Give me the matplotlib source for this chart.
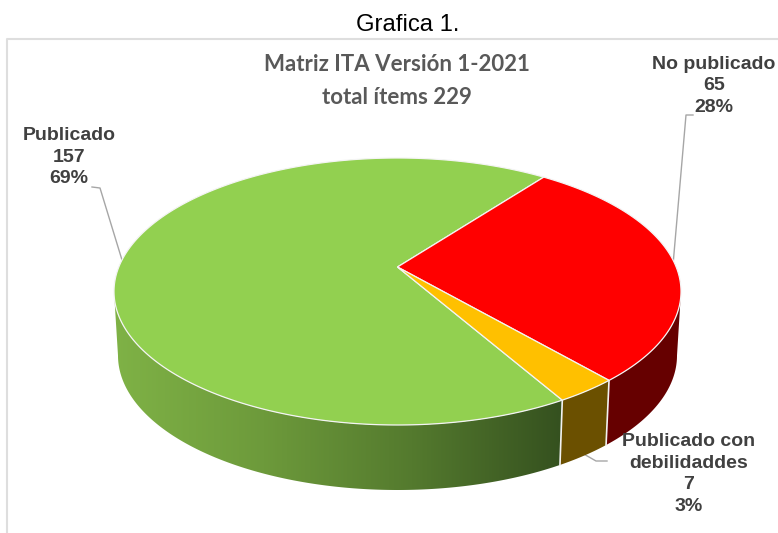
import numpy as np
import matplotlib
matplotlib.use("Agg")
import matplotlib.pyplot as plt
from matplotlib.patches import Polygon
from matplotlib.colors import LinearSegmentedColormap

# data
categorias = ["Publicado", "No publicado", "Publicado con\ndebilidaddes"]
valores = [157, 65, 7]
porcentajes = ["69%", "28%", "3%"]
colores_top = ["#92D050", "#FF0000", "#FFC000"]

# pie geometry, in pixels of the 778x533 picture
cx, cy, rx, ry = 397.5, 291.5, 283.5, 133.5
cx2, cy2, rx2, ry2 = 397.5, 355.5, 279.5, 134.5
persp = 0.1835
inicio = 53.0   # red/green border, angle on the flat circle


def proj(t, x0, y0, a, b):
    # perspective view of a circle, so the apex sits above the ellipse centre
    t = np.radians(t)
    w = 1 + persp * np.sin(t)
    xp = np.cos(t) * np.sqrt(1 - persp ** 2) / w
    yp = (np.sin(t) + persp) / w
    return x0 + a * xp, y0 - b * yp


def top_slice(t1, t2):
    t = np.linspace(t1, t2, 300)
    x, y = proj(t, cx, cy, rx, ry)
    return np.column_stack([np.r_[cx, x], np.r_[cy - ry * persp, y]])


def side_slice(t1, t2):
    t = np.linspace(t1, t2, 200)
    x, y = proj(t, cx, cy, rx, ry)
    x2, y2 = proj(t[::-1], cx2, cy2, rx2, ry2)
    return np.column_stack([np.r_[x, x2], np.r_[y, y2]])


fig = plt.figure(figsize=(7.78, 5.33), dpi=100)
ax = fig.add_axes([0, 0, 1, 1])
ax.set_xlim(0, 778)
ax.set_ylim(533, 0)
ax.axis("off")

# chart frame
ax.plot([778, 7.5, 7.5], [39, 39, 533], color="#DEDEDE", lw=1.5)

# slice angles, clockwise from the red border
total = sum(valores)
ang_rojo = valores[1] / total * 360
ang_amar = valores[2] / total * 360
t_a = inicio
t_b = t_a - ang_rojo
t_c = t_b - ang_amar
t_d = t_a - 360
borde = -np.degrees(np.arcsin(persp))   # where the rim turns away

# side walls
ax.add_patch(Polygon(side_slice(borde, t_b), fc="#660000", ec="none", zorder=2))
ax.add_patch(Polygon(side_slice(t_b, t_c), fc="#6B5000", ec="none", zorder=2))

verde = LinearSegmentedColormap.from_list("verde", ["#7FB246", "#6D9A3B", "#547A2E", "#35511F"])
p_verde = Polygon(side_slice(t_c, -180 - borde), fc="none", ec="none", zorder=2)
ax.add_patch(p_verde)
im = ax.imshow(np.linspace(0, 1, 256).reshape(1, -1), cmap=verde, aspect="auto",
               extent=[114, 562, 500, 280], zorder=2)
im.set_clip_path(p_verde)
ax.set_xlim(0, 778)
ax.set_ylim(533, 0)

# wall separators
for t in [t_b, t_c]:
    x1, y1 = proj(t, cx, cy, rx, ry)
    x2, y2 = proj(t, cx2, cy2, rx2, ry2)
    ax.plot([x1, x2], [y1, y2], color="#F2F2F2", lw=1.2, zorder=3)

# top faces
ax.add_patch(Polygon(top_slice(t_c, t_d), fc=colores_top[0], ec="#F4F4F4", lw=0.9, zorder=4))
ax.add_patch(Polygon(top_slice(t_b, t_a), fc=colores_top[1], ec="#F4F4F4", lw=0.9, zorder=4))
ax.add_patch(Polygon(top_slice(t_c, t_b), fc=colores_top[2], ec="#F4F4F4", lw=0.9, zorder=4))

# leader lines
gris = "#A6A6A6"
ax.plot([92, 100, 122], [187, 188, 260], color=gris, lw=1, zorder=1)
ax.plot([693, 686, 673], [115, 115, 265], color=gris, lw=1, zorder=1)
ax.plot([582, 596, 607], [453, 461, 461], color=gris, lw=1, zorder=1)

# text
ax.text(408, 25, "Grafica 1.", ha="center", va="center", fontsize=17.2,
        family="Liberation Sans", color="black")
ax.text(397, 81, "Matriz ITA Versión 1-2021\ntotal ítems 229", ha="center", va="center",
        fontsize=16, family="Lato", weight="bold", color="#595959", linespacing=1.72)

etiquetas = [(69, 157), (714, 86), (689, 474)]
for (x, y), cat, val, pct in zip(etiquetas, categorias, valores, porcentajes):
    ax.text(x, y, f"{cat}\n{val}\n{pct}", ha="center", va="center", fontsize=14,
            family="Liberation Sans", weight="bold", color="#404040", linespacing=1.36)

fig.savefig("out.png", dpi=100)
